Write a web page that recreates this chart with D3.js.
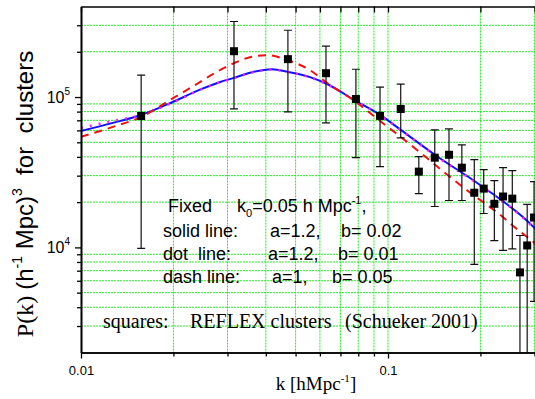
<!DOCTYPE html>
<html>
<head>
<meta charset="utf-8">
<script src="https://cdn.jsdelivr.net/npm/d3@7"></script>
<style>
  body { margin: 0; background: #fff; }
  svg { display: block; }
  .sans { font-family: Arial, "Liberation Sans", sans-serif; }
  .serif { font-family: "Times New Roman", "Liberation Serif", serif; }
  .grid line { stroke: #22ee22; stroke-width: 1; stroke-dasharray: 2,1; }
  .axis path, .axis line { stroke: #000; }
  .axis path { stroke-width: 1.6; }
</style>
</head>
<body>
<svg id="chart" width="535" height="399"></svg>
<script>
// REFLEX cluster points (Schueker 2001)
const kData = [0.0157, 0.0315, 0.0472, 0.0628, 0.0786, 0.0942, 0.110, 0.126, 0.142, 0.158,
               0.174, 0.191, 0.205, 0.222, 0.237, 0.254, 0.269, 0.284, 0.299];
const pData = [74800, 201700, 178600, 144000, 97000, 74900, 83300, 31900, 39500, 41300,
               33900, 23100, 24600, 19500, 21800, 21100, 6820, 10300, 15800];
const pHigh = [140000, 318000, 278000, 218000, 153000, 116500, 122000, 40100, 60400, 61400,
               48100, 38300, 32900, 27800, 33900, 32400, 12000, 19300, 27400];
const pLow = [9840, 83300, 79600, 67300, 39500, 34400, 53500, 22800, 18700, 20500,
              20500, 7710, 16800, 11100, 9550, 9770, 1000, 1000, 4380];

// model curves
const solidK = [0.0100, 0.0127, 0.0157, 0.0199, 0.0244, 0.0284, 0.0315, 0.0355, 0.0419, 0.0472,
                0.0557, 0.0628, 0.0786, 0.0942, 0.110, 0.142, 0.199, 0.2986, 0.306];
const solidP = [59500, 67300, 76000, 92700, 112000, 126000, 134000, 145000, 153200, 147000,
                135600, 123000, 94100, 76000, 60500, 41300, 26100, 13600, 12900];
const dotK = [0.0100, 0.0127, 0.0157, 0.0199, 0.0244, 0.0284, 0.0315, 0.0355, 0.0419, 0.0472,
              0.0557, 0.0628, 0.0786, 0.0942, 0.110, 0.142, 0.199, 0.2986, 0.306];
const dotP = [62400, 69300, 76000, 92000, 111500, 125500, 133500, 144500, 152500, 146500,
              135000, 122500, 94000, 75800, 60200, 41000, 25900, 13400, 12700];
const dashK = [0.0100, 0.0127, 0.0157, 0.0195, 0.0244, 0.0269, 0.0315, 0.0355, 0.0404, 0.0472,
               0.0557, 0.0628, 0.0786, 0.0942, 0.110, 0.130, 0.156, 0.189, 0.227, 0.269, 0.2986, 0.306];
const dashP = [54300, 63300, 73700, 95500, 125700, 142000, 168000, 184000, 189700, 175800,
               151000, 125700, 92700, 69300, 54300, 41300, 30400, 22400, 17050, 12760, 10800, 10300];

// ticks
const xMajor = [0.01, 0.1];
const xMajorLabels = ['0.01', '0.1'];
const xMinor = [0.02, 0.03, 0.04, 0.05, 0.06, 0.07, 0.08, 0.09, 0.2, 0.3];
const yMajor = [1e4, 1e5];
const yMajorExp = ['4', '5'];
const yMinor = [3000, 4000, 5000, 6000, 7000, 8000, 9000, 20000, 30000, 40000, 50000,
                60000, 70000, 80000, 90000, 200000, 300000];

const svg = d3.select('#chart');
svg.append('rect').attr('width', 535).attr('height', 399).attr('fill', '#fff');

const x = d3.scaleLog().domain([0.01, 0.3057]).range([81, 537]);
const y = d3.scaleLog().domain([2000, 4e5]).range([352.5, 6.5]);
const yBottom = y.range()[0], yTop = y.range()[1];

svg.append('defs').append('clipPath').attr('id', 'plot')
  .append('rect')
  .attr('x', x.range()[0]).attr('y', yTop)
  .attr('width', x.range()[1] - x.range()[0]).attr('height', yBottom - yTop);

// grid
const grid = svg.append('g').attr('class', 'grid');
grid.selectAll('.gx')
  .data(xMinor.concat([0.1]))
  .join('line')
  .attr('class', 'gx')
  .attr('x1', d => x(d)).attr('x2', d => x(d))
  .attr('y1', yTop).attr('y2', yBottom);
grid.selectAll('.gy')
  .data(yMinor)
  .join('line')
  .attr('class', 'gy')
  .attr('x1', x.range()[0]).attr('x2', x.range()[1])
  .attr('y1', d => y(d)).attr('y2', d => y(d));

// curves
const plot = svg.append('g').attr('clip-path', 'url(#plot)');
const line = d3.line()
  .x(d => x(d[0]))
  .y(d => y(d[1]))
  .curve(d3.curveMonotoneX);

plot.append('path')
  .datum(d3.zip(solidK, solidP))
  .attr('fill', 'none').attr('stroke', '#1010ff').attr('stroke-width', 2)
  .attr('d', line);

plot.append('path')
  .datum(d3.zip(dotK, dotP))
  .attr('fill', 'none').attr('stroke', '#ff22ff').attr('stroke-width', 2.5)
  .attr('stroke-dasharray', '2,7')
  .attr('d', line);

plot.append('path')
  .datum(d3.zip(dashK, dashP))
  .attr('fill', 'none').attr('stroke', '#f01010').attr('stroke-width', 2)
  .attr('stroke-dasharray', '8,6')
  .attr('d', line);

// error bars and squares
const pts = kData.map((k, i) => ({k: k, p: pData[i], hi: pHigh[i], lo: pLow[i]}));
const bars = plot.append('g').attr('stroke', '#111').attr('stroke-width', 1.2);
bars.selectAll('.v').data(pts).join('line')
  .attr('class', 'v')
  .attr('x1', d => x(d.k)).attr('x2', d => x(d.k))
  .attr('y1', d => y(d.hi)).attr('y2', d => y(d.lo));
bars.selectAll('.ch').data(pts).join('line')
  .attr('class', 'ch')
  .attr('x1', d => x(d.k) - 4).attr('x2', d => x(d.k) + 4)
  .attr('y1', d => y(d.hi)).attr('y2', d => y(d.hi));
bars.selectAll('.cl').data(pts).join('line')
  .attr('class', 'cl')
  .attr('x1', d => x(d.k) - 4).attr('x2', d => x(d.k) + 4)
  .attr('y1', d => y(d.lo)).attr('y2', d => y(d.lo));
plot.selectAll('.sq').data(pts).join('rect')
  .attr('class', 'sq')
  .attr('x', d => x(d.k) - 4).attr('y', d => y(d.p) - 4)
  .attr('width', 8).attr('height', 8)
  .attr('fill', '#000');

// axes
const axes = svg.append('g').attr('class', 'axis');
axes.append('g')
  .attr('transform', 'translate(0,' + yBottom + ')')
  .call(d3.axisBottom(x).tickValues(xMinor).tickSize(4).tickSizeOuter(0).tickFormat(''));
axes.append('g')
  .attr('transform', 'translate(0,' + yBottom + ')')
  .call(d3.axisBottom(x).tickValues(xMajor).tickSize(6).tickSizeOuter(0)
    .tickFormat((d, i) => xMajorLabels[i]))
  .call(g => g.selectAll('text').attr('class', 'sans').attr('font-size', 13)
    .attr('y', 13).attr('fill', '#000'));
axes.append('g')
  .attr('transform', 'translate(0,' + yTop + ')')
  .call(d3.axisTop(x).tickValues(xMinor.concat(xMajor)).tickSize(-6).tickSizeOuter(0).tickFormat(''));
axes.append('g')
  .attr('transform', 'translate(' + x.range()[0] + ',0)')
  .call(d3.axisLeft(y).tickValues(yMinor).tickSize(4).tickSizeOuter(0).tickFormat(''));
axes.append('g')
  .attr('transform', 'translate(' + x.range()[0] + ',0)')
  .call(d3.axisLeft(y).tickValues(yMajor).tickSize(6).tickSizeOuter(0).tickFormat(''));
axes.selectAll('line').attr('stroke-width', 1.3);
axes.selectAll('path.domain').attr('stroke-width', 1.8);

// y tick labels 10^n
const yl = svg.append('g').attr('class', 'sans').attr('fill', '#000');
yMajor.forEach((v, i) => {
  const t = yl.append('text')
    .attr('x', 70).attr('y', y(v) + 6)
    .attr('text-anchor', 'end').attr('font-size', 16);
  t.append('tspan').text('10');
  t.append('tspan').attr('font-size', 10).attr('dy', -8).text(yMajorExp[i]);
});

// axis titles
const xt = svg.append('text')
  .attr('class', 'serif').attr('font-size', 19)
  .attr('x', 316).attr('y', 390).attr('text-anchor', 'middle');
xt.append('tspan').text('k [hMpc');
xt.append('tspan').attr('font-size', 11).attr('dy', -8).text('-1');
xt.append('tspan').attr('dy', 8).text(']');

const yt = svg.append('text')
  .attr('transform', 'translate(33,194) rotate(-90)')
  .attr('text-anchor', 'middle')
  .attr('xml:space', 'preserve')
  .attr('class', 'sans').attr('font-size', 24);
yt.append('tspan').attr('class', 'serif').text('P(k) ');
yt.append('tspan').text('(h');
yt.append('tspan').attr('font-size', 14).attr('dy', -11).text('-1');
yt.append('tspan').attr('dy', 11).text(' Mpc)');
yt.append('tspan').attr('font-size', 14).attr('dy', -11).text('3');
yt.append('tspan').attr('dy', 11).text('  for  clusters');

// annotation
const ann = svg.append('g').attr('class', 'sans').attr('font-size', 18).attr('fill', '#000');
ann.append('text').attr('x', 168).attr('y', 212).text('Fixed');
const k0 = ann.append('text').attr('x', 237).attr('y', 212);
k0.append('tspan').text('k');
k0.append('tspan').attr('font-size', 11).attr('dy', 5).text('0');
k0.append('tspan').attr('dy', -5).text('=0.05 h Mpc');
k0.append('tspan').attr('font-size', 11).attr('dy', -8).text('-1');
k0.append('tspan').attr('dy', 8).text(',');

const rows = [
  {y: 237, label: 'solid line:', a: 'a=1.2,', ax: 270, b: 'b= 0.02', bx: 341},
  {y: 260, label: 'dot  line:', a: 'a=1.2,', ax: 268, b: 'b= 0.01', bx: 338},
  {y: 283, label: 'dash line:', a: 'a=1,', ax: 272, b: 'b= 0.05', bx: 332}
];
rows.forEach(r => {
  ann.append('text').attr('x', 163).attr('y', r.y).attr('xml:space', 'preserve').text(r.label);
  ann.append('text').attr('x', r.ax).attr('y', r.y).text(r.a);
  ann.append('text').attr('x', r.bx).attr('y', r.y).text(r.b);
});

const src = svg.append('g').attr('class', 'serif').attr('font-size', 20).attr('fill', '#000');
src.append('text').attr('x', 103).attr('y', 328).text('squares:');
src.append('text').attr('x', 190).attr('y', 328).text('REFLEX clusters');
src.append('text').attr('x', 345).attr('y', 328).text('(Schueker 2001)');
</script>
</body>
</html>
